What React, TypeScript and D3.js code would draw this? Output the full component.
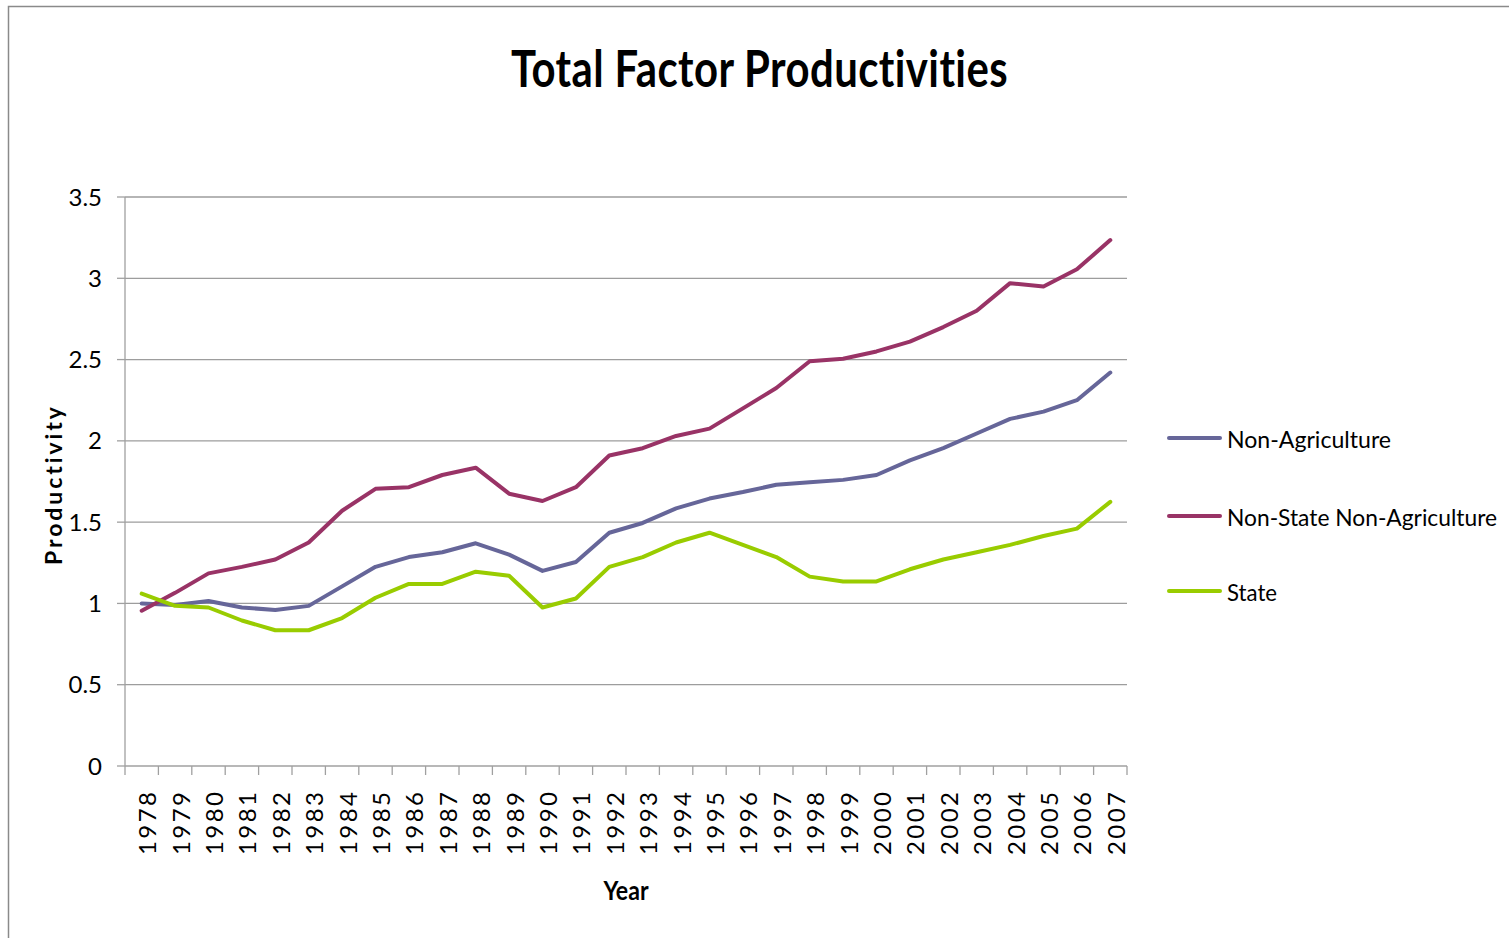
import React from "react";
import * as d3 from "d3";

const years: string[] = [
  "1978","1979","1980","1981","1982","1983","1984","1985","1986","1987",
  "1988","1989","1990","1991","1992","1993","1994","1995","1996","1997",
  "1998","1999","2000","2001","2002","2003","2004","2005","2006","2007",
];

const nonAgriculture: number[] = [
  1.0, 0.99, 1.015, 0.975, 0.96, 0.985, 1.105, 1.225, 1.285, 1.315,
  1.37, 1.3, 1.2, 1.255, 1.435, 1.495, 1.585, 1.645, 1.685, 1.73,
  1.745, 1.76, 1.79, 1.88, 1.955, 2.045, 2.135, 2.18, 2.25, 2.42,
];

const nonStateNonAgriculture: number[] = [
  0.955, 1.065, 1.185, 1.225, 1.27, 1.375, 1.57, 1.705, 1.715, 1.79,
  1.835, 1.675, 1.63, 1.715, 1.91, 1.955, 2.03, 2.075, 2.2, 2.325,
  2.49, 2.505, 2.55, 2.61, 2.7, 2.8, 2.97, 2.95, 3.055, 3.235,
];

const state: number[] = [
  1.06, 0.985, 0.975, 0.895, 0.835, 0.835, 0.91, 1.035, 1.12, 1.12,
  1.195, 1.17, 0.975, 1.03, 1.225, 1.285, 1.375, 1.435, 1.36, 1.285,
  1.165, 1.135, 1.135, 1.21, 1.27, 1.315, 1.36, 1.415, 1.46, 1.625,
];

const yTicks: number[] = [0, 0.5, 1, 1.5, 2, 2.5, 3, 3.5];

const seriesNames: string[] = ["Non-Agriculture", "Non-State Non-Agriculture", "State"];
const seriesColors: string[] = ["#666699", "#993366", "#99cc00"];
const seriesData: number[][] = [nonAgriculture, nonStateNonAgriculture, state];

const W = 1509;
const H = 938;
const L = 125;
const R = 1127;
const T = 197;
const B = 766;
const FONT = "Lato, 'Open Sans', sans-serif";

export default function App() {
  const x = d3.scaleBand<string>().domain(years).range([L, R]).paddingInner(0).paddingOuter(0);
  const y = d3.scaleLinear().domain([0, 3.5]).range([B, T]);
  const cx = (yr: string) => (x(yr) as number) + x.bandwidth() / 2;

  const line = d3
    .line<number>()
    .x((_, i) => cx(years[i]))
    .y((d) => y(d));

  const boundaries = d3.range(years.length + 1).map((i) => L + i * x.bandwidth());
  const legendY = [438, 516, 591];
  const legendLen = [164, 270, 50];

  return (
    <svg
      width={W}
      height={H}
      style={{ position: "absolute", left: 0, top: 0, background: "#fff", fontVariantLigatures: "none" }}
      fontFamily={FONT}
    >
      <rect x={0} y={0} width={W} height={H} fill="#fff" />
      <rect x={8.5} y={6.5} width={1700} height={1200} fill="none" stroke="#8a8a8a" strokeWidth={1.5} />

      {/* Title */}
      <text
        x={759.5}
        y={87}
        textAnchor="middle"
        fontSize={52}
        fontWeight="bold"
        letterSpacing={0.5}
        textLength={497}
        lengthAdjust="spacingAndGlyphs"
        fill="#000"
        style={{ fontVariantLigatures: "none", fontFeatureSettings: "'liga' 0" }}
      >
        Total Factor Productivities
      </text>

      {/* Gridlines */}
      {yTicks.filter((t) => t > 0).map((t) => (
        <line key={"g" + t} x1={L} x2={R} y1={y(t)} y2={y(t)} stroke="#9d9d9d" strokeWidth={1.3} />
      ))}

      {/* Y axis */}
      <line x1={L} x2={L} y1={T} y2={B} stroke="#a0a0a0" strokeWidth={1.3} />
      {yTicks.map((t) => (
        <g key={"yt" + t}>
          <line x1={L - 8} x2={L} y1={y(t)} y2={y(t)} stroke="#a0a0a0" strokeWidth={1.3} />
          <text x={102} y={y(t)} dy="0.36em" textAnchor="end" fontSize={24} fill="#000">
            {t}
          </text>
        </g>
      ))}

      {/* X axis */}
      <line x1={L} x2={R} y1={B} y2={B} stroke="#a0a0a0" strokeWidth={1.3} />
      {boundaries.map((bx, i) => (
        <line key={"xt" + i} x1={bx} x2={bx} y1={B} y2={B + 9} stroke="#a0a0a0" strokeWidth={1.3} />
      ))}
      {years.map((yr) => (
        <text
          key={"xl" + yr}
          transform={`translate(${cx(yr) + 14.5},${792}) rotate(-90)`}
          textAnchor="end"
          fontSize={24}
          textLength={63}
          lengthAdjust="spacing"
          fill="#000"
        >
          {yr}
        </text>
      ))}

      {/* Axis titles */}
      <text
        transform={`translate(62,486) rotate(-90)`}
        textAnchor="middle"
        fontSize={23}
        fontWeight="bold"
        textLength={158}
        lengthAdjust="spacing"
        fill="#000"
      >
        Productivity
      </text>
      <text
        x={626}
        y={900}
        textAnchor="middle"
        fontSize={26}
        fontWeight="bold"
        textLength={45}
        lengthAdjust="spacingAndGlyphs"
        fill="#000"
      >
        Year
      </text>

      {/* Lines */}
      {seriesData.map((s, i) => (
        <path
          key={"s" + i}
          d={line(s) as string}
          fill="none"
          stroke={seriesColors[i]}
          strokeWidth={4}
          strokeLinejoin="round"
          strokeLinecap="round"
        />
      ))}

      {/* Legend */}
      {seriesNames.map((n, i) => (
        <g key={"lg" + i}>
          <line x1={1169} x2={1220} y1={legendY[i]} y2={legendY[i]} stroke={seriesColors[i]} strokeWidth={4} strokeLinecap="round" />
          <text
            x={1227}
            y={legendY[i] + 10}
            fontSize={23}
            textLength={legendLen[i]}
            lengthAdjust="spacingAndGlyphs"
            fill="#000"
          >
            {n}
          </text>
        </g>
      ))}
    </svg>
  );
}
